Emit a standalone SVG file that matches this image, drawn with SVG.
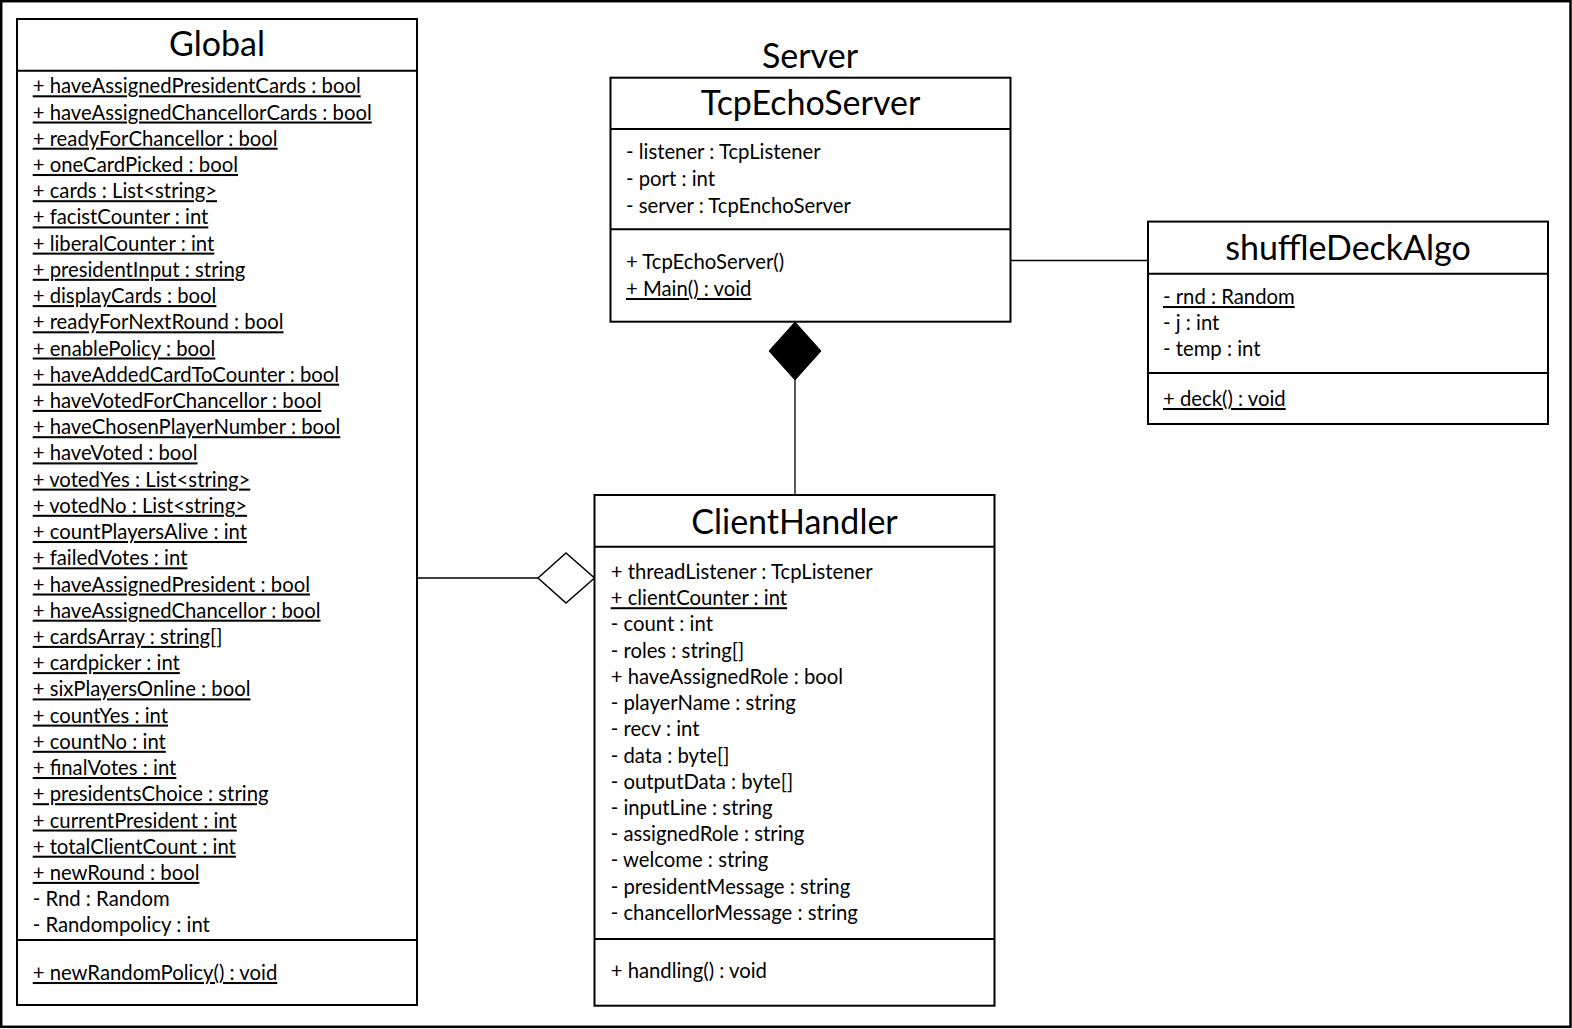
<svg xmlns="http://www.w3.org/2000/svg" width="1572" height="1029" viewBox="0 0 1572 1029">
<style>
.box{fill:#fff;stroke:#000;stroke-width:2}
.sep{stroke:#000;stroke-width:2}
.t{font-family:Lato,"Liberation Sans",sans-serif;font-size:34px;fill:#000;text-anchor:middle}
.a{font-family:Lato,"Liberation Sans",sans-serif;font-size:20.3px;fill:#000}
.u{text-decoration:underline}
.c{stroke:#000;stroke-width:1.3;fill:none}
</style>
<rect x="1.2" y="1.2" width="1569.3" height="1025.6" fill="#fff" stroke="#000" stroke-width="2.5"/>

<g id="connectors">
<line class="c" x1="1010.5" y1="260.5" x2="1148" y2="260.5"/>
<line class="c" x1="795" y1="380" x2="795" y2="495"/>
<polygon points="795,322 821,351 795,380 769,351" fill="#000" stroke="#000" stroke-width="1"/>
<line class="c" x1="417" y1="578" x2="538" y2="578"/>
<polygon points="538,578 566,553 594.5,578 566,603" fill="#fff" stroke="#000" stroke-width="1.5"/>
</g>

<g id="Global">
<rect class="box" x="17" y="19" width="400" height="986"/>
<line class="sep" x1="17" y1="70.7" x2="417" y2="70.7"/>
<line class="sep" x1="17" y1="940" x2="417" y2="940"/>
<text class="t" x="217" y="56">Global</text>
<g class="a">
<text class="u" x="32.7" y="93.3">+ haveAssignedPresidentCards : bool</text>
<text class="u" x="32.7" y="119.5">+ haveAssignedChancellorCards : bool</text>
<text class="u" x="32.7" y="145.7">+ readyForChancellor : bool</text>
<text class="u" x="32.7" y="172">+ oneCardPicked : bool</text>
<text class="u" x="32.7" y="198.2">+ cards : List&lt;string&gt;</text>
<text class="u" x="32.7" y="224.4">+ facistCounter : int</text>
<text class="u" x="32.7" y="250.6">+ liberalCounter : int</text>
<text class="u" x="32.7" y="276.8">+ presidentInput : string</text>
<text class="u" x="32.7" y="303.1">+ displayCards : bool</text>
<text class="u" x="32.7" y="329.3">+ readyForNextRound : bool</text>
<text class="u" x="32.7" y="355.5">+ enablePolicy : bool</text>
<text class="u" x="32.7" y="381.7">+ haveAddedCardToCounter : bool</text>
<text class="u" x="32.7" y="407.9">+ haveVotedForChancellor : bool</text>
<text class="u" x="32.7" y="434.2">+ haveChosenPlayerNumber : bool</text>
<text class="u" x="32.7" y="460.4">+ haveVoted : bool</text>
<text class="u" x="32.7" y="486.6">+ votedYes : List&lt;string&gt;</text>
<text class="u" x="32.7" y="512.8">+ votedNo : List&lt;string&gt;</text>
<text class="u" x="32.7" y="539">+ countPlayersAlive : int</text>
<text class="u" x="32.7" y="565.3">+ failedVotes : int</text>
<text class="u" x="32.7" y="591.5">+ haveAssignedPresident : bool</text>
<text class="u" x="32.7" y="617.7">+ haveAssignedChancellor : bool</text>
<text class="u" x="32.7" y="643.9">+ cardsArray : string[]</text>
<text class="u" x="32.7" y="670.1">+ cardpicker : int</text>
<text class="u" x="32.7" y="696.4">+ sixPlayersOnline : bool</text>
<text class="u" x="32.7" y="722.6">+ countYes : int</text>
<text class="u" x="32.7" y="748.8">+ countNo : int</text>
<text class="u" x="32.7" y="775">+ finalVotes : int</text>
<text class="u" x="32.7" y="801.2">+ presidentsChoice : string</text>
<text class="u" x="32.7" y="827.5">+ currentPresident : int</text>
<text class="u" x="32.7" y="853.7">+ totalClientCount : int</text>
<text class="u" x="32.7" y="879.9">+ newRound : bool</text>
<text x="32.7" y="906.1">- Rnd : Random</text>
<text x="32.7" y="932.3">- Randompolicy : int</text>
<text class="u" x="32.7" y="980">+ newRandomPolicy() : void</text>
</g>
</g>

<g id="TcpEchoServer">
<text class="t" x="810" y="68">Server</text>
<rect class="box" x="610.5" y="77.7" width="400" height="244"/>
<line class="sep" x1="610.5" y1="129" x2="1010.5" y2="129"/>
<line class="sep" x1="610.5" y1="229.3" x2="1010.5" y2="229.3"/>
<text class="t" x="810.5" y="115">TcpEchoServer</text>
<g class="a">
<text x="626" y="159.3">- listener : TcpListener</text>
<text x="626" y="186">- port : int</text>
<text x="626" y="212.7">- server : TcpEnchoServer</text>
<text x="626" y="269.3">+ TcpEchoServer()</text>
<text class="u" x="626" y="296">+ Main() : void</text>
</g>
</g>

<g id="shuffleDeckAlgo">
<rect class="box" x="1148" y="221.6" width="400" height="202.4"/>
<line class="sep" x1="1148" y1="273.7" x2="1548" y2="273.7"/>
<line class="sep" x1="1148" y1="373" x2="1548" y2="373"/>
<text class="t" x="1348" y="259.5">shuffleDeckAlgo</text>
<g class="a">
<text class="u" x="1163" y="304">- rnd : Random</text>
<text x="1163" y="330.2">- j : int</text>
<text x="1163" y="356.4">- temp : int</text>
<text class="u" x="1163" y="406">+ deck() : void</text>
</g>
</g>

<g id="ClientHandler">
<rect class="box" x="594.5" y="495" width="400" height="510.7"/>
<line class="sep" x1="594.5" y1="546.7" x2="994.5" y2="546.7"/>
<line class="sep" x1="594.5" y1="939" x2="994.5" y2="939"/>
<text class="t" x="794.5" y="534">ClientHandler</text>
<g class="a">
<text x="610.7" y="579">+ threadListener : TcpListener</text>
<text class="u" x="610.7" y="605.2">+ clientCounter : int</text>
<text x="610.7" y="631.4">- count : int</text>
<text x="610.7" y="657.7">- roles : string[]</text>
<text x="610.7" y="683.9">+ haveAssignedRole : bool</text>
<text x="610.7" y="710.1">- playerName : string</text>
<text x="610.7" y="736.3">- recv : int</text>
<text x="610.7" y="762.5">- data : byte[]</text>
<text x="610.7" y="788.8">- outputData : byte[]</text>
<text x="610.7" y="815">- inputLine : string</text>
<text x="610.7" y="841.2">- assignedRole : string</text>
<text x="610.7" y="867.4">- welcome : string</text>
<text x="610.7" y="893.6">- presidentMessage : string</text>
<text x="610.7" y="919.9">- chancellorMessage : string</text>
<text x="610.7" y="977.7">+ handling() : void</text>
</g>
</g>
</svg>
